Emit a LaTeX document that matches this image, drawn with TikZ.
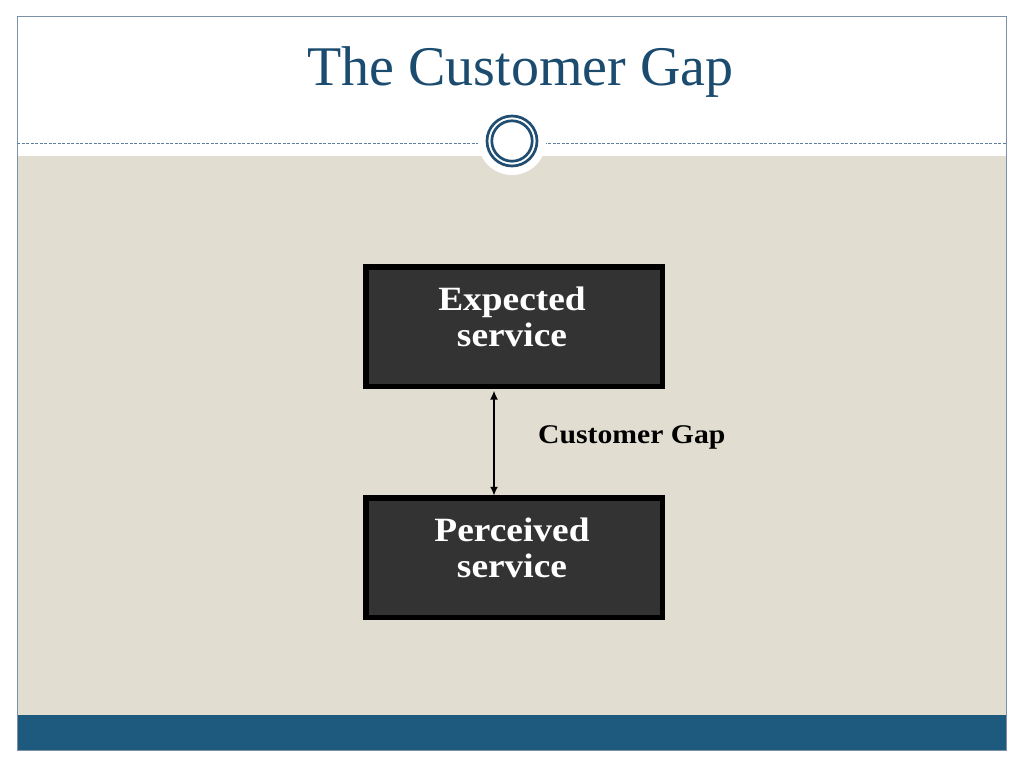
\documentclass[tikz,border=0pt]{standalone}
\usepackage{fontspec}
\setmainfont{Liberation Serif}
\newfontfamily\boxfont[FakeStretch=1.1]{Liberation Serif}
\usetikzlibrary{arrows.meta}
\definecolor{frameblue}{HTML}{7A91A8}
\definecolor{dashblue}{HTML}{5F7F9C}
\definecolor{titleblue}{HTML}{1B4B6F}
\definecolor{ringblue}{HTML}{1F4E72}
\definecolor{bandblue}{HTML}{1D5A7E}
\definecolor{beige}{HTML}{E2DDD1}
\definecolor{boxfill}{HTML}{333333}
\tikzset{
  darkbox/.style={draw=black, line width=5.5pt, fill=boxfill, minimum width=296.5pt, minimum height=119.5pt, inner sep=0pt, outer sep=0pt},
  boxtext/.style={text=white, font=\boxfont\bfseries\fontsize{34}{36}\selectfont, align=center, inner sep=0pt, anchor=base},
  gaparrow/.style={{Latex[length=9pt,width=8pt]}-{Latex[length=9pt,width=8pt]}, line width=2pt, black}
}
\begin{document}
\begin{tikzpicture}[x=1pt,y=-1pt]
\useasboundingbox (0,0) rectangle (1024,768);
\fill[white] (0,0) rectangle (1024,768);
\fill[beige] (17,156) rectangle (1006,715);
\fill[bandblue] (17,715) rectangle (1006,750);
\draw[frameblue, line width=1pt] (17,17) rectangle (1006,750);
\draw[dashblue, line width=1pt, dash pattern=on 3pt off 1.5pt] (17,143) -- (1006,143);
\fill[white] (512,141) circle (34);
\draw[ringblue, line width=2.7pt] (512,141) circle (25);
\draw[ringblue, line width=2.7pt] (512,141) circle (20.2);
\node[anchor=base, text=titleblue, font=\fontsize{56}{60}\selectfont, inner sep=0pt] (title) at (520.5,85) {The Customer Gap};
\node[darkbox] (exp) at (514,326.8) {};
\node[darkbox] (per) at (514,557.5) {};
\node[boxtext] (exptext) at (512,346) {Expected\\service};
\node[boxtext] (pertext) at (512,577) {Perceived\\service};
\draw[gaparrow] ([xshift=-20pt,yshift=-4pt]exp.south) -- ([xshift=-20pt,yshift=2pt]per.north);
\node[anchor=base west, inner sep=0pt, font=\boxfont\bfseries\fontsize{27}{30}\selectfont] (gap) at (538,443) {Customer Gap};
\end{tikzpicture}
\end{document}
